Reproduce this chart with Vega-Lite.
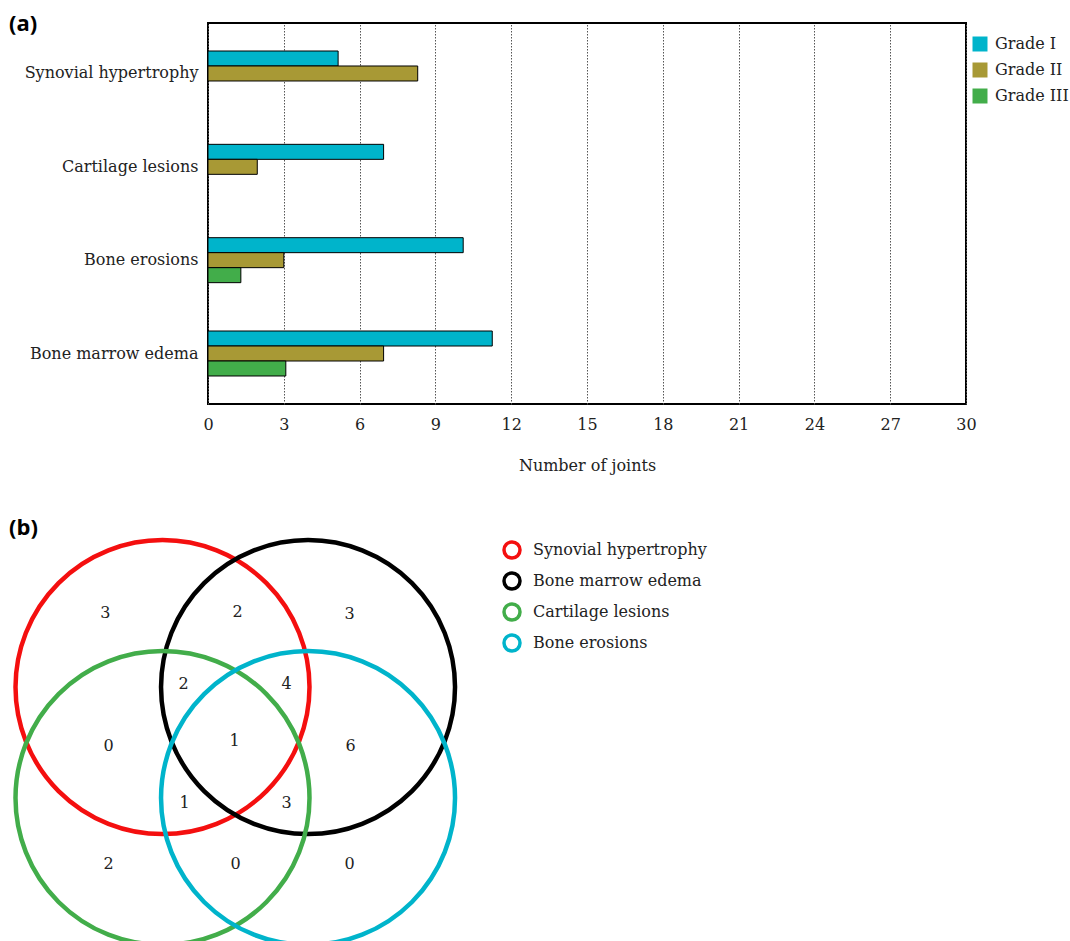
{
  "$schema": "https://vega.github.io/schema/vega-lite/v6.json",
  "background": "white",
  "padding": {"left": 6, "top": 12, "right": 0, "bottom": -5},
  "spacing": 43,
  "columns": 1,
  "config": {
    "font": "DejaVu Serif",
    "text": {"font": "DejaVu Serif"}
  },
  "resolve": {
    "scale": {"x": "independent", "y": "independent"},
    "legend": {"fill": "independent", "stroke": "independent"}
  },
  "concat": [
    {
      "title": {"text": "(a)", "anchor": "start", "frame": "group", "font": "Open Sans", "fontWeight": "bold", "fontSize": 22, "color": "black", "baseline": "alphabetic", "dx": -199, "offset": -30},
      "width": 758,
      "height": 381,
      "view": {"stroke": "black", "strokeWidth": 2},
      "data": {"values": [
        {"finding": "Synovial hypertrophy", "grade": "Grade I", "joints": 5.15},
        {"finding": "Synovial hypertrophy", "grade": "Grade II", "joints": 8.3},
        {"finding": "Cartilage lesions", "grade": "Grade I", "joints": 6.95},
        {"finding": "Cartilage lesions", "grade": "Grade II", "joints": 1.95},
        {"finding": "Bone erosions", "grade": "Grade I", "joints": 10.1},
        {"finding": "Bone erosions", "grade": "Grade II", "joints": 3.0},
        {"finding": "Bone erosions", "grade": "Grade III", "joints": 1.3},
        {"finding": "Bone marrow edema", "grade": "Grade I", "joints": 11.25},
        {"finding": "Bone marrow edema", "grade": "Grade II", "joints": 6.95},
        {"finding": "Bone marrow edema", "grade": "Grade III", "joints": 3.08}
      ]},
      "mark": {"type": "bar", "stroke": "black", "strokeWidth": 1},
      "encoding": {
        "y": {
          "field": "finding", "type": "nominal",
          "sort": ["Synovial hypertrophy", "Cartilage lesions", "Bone erosions", "Bone marrow edema"],
          "scale": {"paddingInner": 0.518, "paddingOuter": 0.3},
          "axis": {"title": null, "ticks": false, "domain": false, "labelPadding": 10, "labelFontSize": 16, "labelFont": "DejaVu Serif", "labelColor": "#222", "labelLimit": 300}
        },
        "yOffset": {
          "field": "grade", "type": "nominal",
          "sort": ["Grade I", "Grade II", "Grade III"],
          "scale": {"paddingInner": 0, "paddingOuter": 0}
        },
        "x": {
          "field": "joints", "type": "quantitative",
          "scale": {"domain": [0, 30], "nice": false},
          "axis": {"title": "Number of joints", "values": [0, 3, 6, 9, 12, 15, 18, 21, 24, 27, 30], "ticks": false, "domain": false, "labelPadding": 12, "labelFontSize": 16, "labelFont": "DejaVu Serif", "labelColor": "#222", "labelFlush": false, "titleFont": "DejaVu Serif", "titleFontSize": 16, "titleFontWeight": "normal", "titleColor": "#222", "titlePadding": 25, "grid": true, "gridColor": "#555", "gridDash": [1.5, 1.5], "gridWidth": 1}
        },
        "fill": {
          "field": "grade", "type": "nominal",
          "scale": {"domain": ["Grade I", "Grade II", "Grade III"], "range": ["#00b4cb", "#a89935", "#42ad4a"]},
          "legend": {"title": null, "orient": "none", "legendX": 764, "legendY": 13, "symbolType": "square", "symbolSize": 225, "symbolStrokeWidth": 0, "labelFont": "DejaVu Serif", "labelFontSize": 16, "labelColor": "#222", "labelOffset": 7, "rowPadding": 10}
        }
      }
    },
    {
      "title": {"text": "(b)", "anchor": "start", "frame": "group", "font": "Open Sans", "fontWeight": "bold", "fontSize": 22, "color": "black", "baseline": "alphabetic", "dx": -199, "offset": -26},
      "width": 300,
      "height": 404,
      "view": {"stroke": null},
      "layer": [
        {
          "data": {"values": [
            {"finding": "Synovial hypertrophy", "cx": 1.0, "cy": 0.755},
            {"finding": "Bone marrow edema", "cx": 1.99, "cy": 0.755},
            {"finding": "Cartilage lesions", "cx": 1.0, "cy": 0.0},
            {"finding": "Bone erosions", "cx": 1.99, "cy": 0.0}
          ]},
          "mark": {"type": "point", "shape": "circle", "filled": false, "size": 86436, "strokeWidth": 4.5, "opacity": 1},
          "encoding": {
            "x": {"field": "cx", "type": "quantitative", "scale": {"domain": [1.3095, 3.3503], "nice": false, "zero": false}, "axis": null},
            "y": {"field": "cy", "type": "quantitative", "scale": {"domain": [-0.98, 1.77], "nice": false, "zero": false}, "axis": null},
            "stroke": {
              "field": "finding", "type": "nominal",
              "scale": {"domain": ["Synovial hypertrophy", "Bone marrow edema", "Cartilage lesions", "Bone erosions"], "range": ["#f40f0f", "#000000", "#42ad4a", "#00b4cb"]},
              "legend": {"title": null, "orient": "none", "legendX": 294, "legendY": 2, "symbolType": "circle", "symbolSize": 256, "symbolStrokeWidth": 3.5, "symbolFillColor": "transparent", "labelFont": "DejaVu Serif", "labelFontSize": 16, "labelColor": "#222", "labelOffset": 11, "labelLimit": 300, "rowPadding": 1}
            }
          }
        },
        {
          "data": {"values": [
            {"count": "3", "px": 0.612, "py": 1.259},
            {"count": "2", "px": 1.510, "py": 1.265},
            {"count": "3", "px": 2.272, "py": 1.252},
            {"count": "2", "px": 1.143, "py": 0.776},
            {"count": "4", "px": 1.844, "py": 0.776},
            {"count": "0", "px": 0.633, "py": 0.354},
            {"count": "1", "px": 1.490, "py": 0.388},
            {"count": "6", "px": 2.279, "py": 0.354},
            {"count": "1", "px": 1.150, "py": -0.034},
            {"count": "3", "px": 1.844, "py": -0.034},
            {"count": "2", "px": 0.633, "py": -0.449},
            {"count": "0", "px": 1.497, "py": -0.449},
            {"count": "0", "px": 2.272, "py": -0.449}
          ]},
          "mark": {"type": "text", "font": "DejaVu Serif", "fontSize": 16, "color": "#222", "align": "center", "baseline": "middle"},
          "encoding": {
            "x": {"field": "px", "type": "quantitative"},
            "y": {"field": "py", "type": "quantitative"},
            "text": {"field": "count", "type": "nominal"}
          }
        }
      ]
    }
  ]
}
